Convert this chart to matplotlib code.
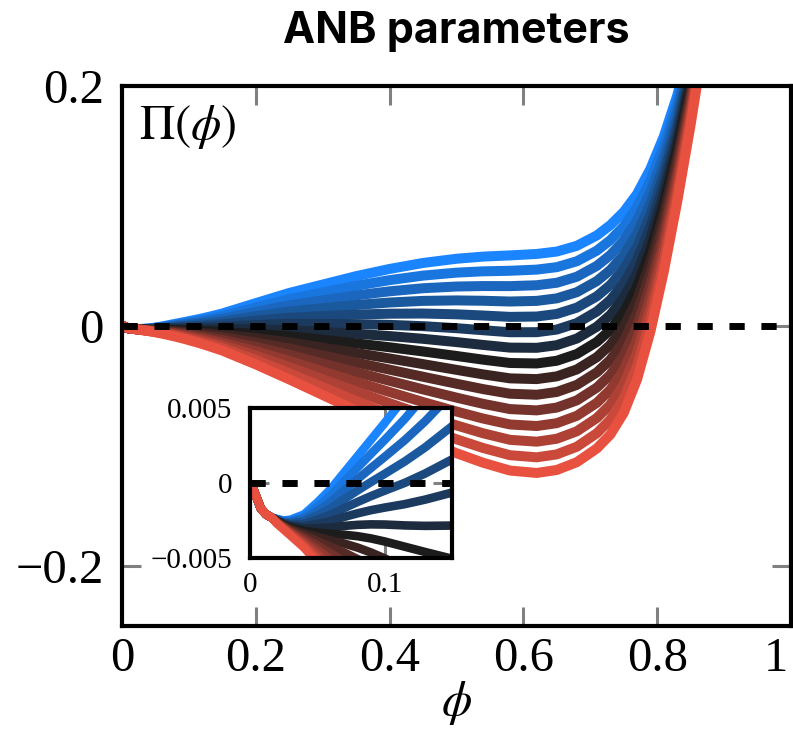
import matplotlib
matplotlib.use('Agg')
import matplotlib.pyplot as plt
import matplotlib.transforms as mtransforms
from matplotlib.colors import LinearSegmentedColormap

# volume fraction grid shared by all curves
phi = [0, 0.002, 0.005, 0.008, 0.012, 0.016, 0.02, 0.025, 0.03, 0.04,
       0.05, 0.06, 0.07, 0.08, 0.09, 0.1, 0.115, 0.13, 0.15, 0.2,
       0.25, 0.3, 0.35, 0.4, 0.45, 0.5, 0.54, 0.58, 0.62, 0.65,
       0.68, 0.71, 0.73, 0.75, 0.77, 0.79, 0.81, 0.83, 0.85, 0.87, 0.89]

# Pi(phi), one list per curve, from blue (top) to red (bottom)
pi_01 = [0, -0.0003, -0.001, -0.0017, -0.0021, -0.0023,
         -0.0024, -0.0025, -0.00245, -0.0021, -0.0013, -0.0004, 0.0007, 0.0018, 0.0029, 0.004,
         0.0057, 0.0076, 0.0104, 0.019, 0.0275, 0.0345, 0.0415, 0.0475, 0.0525, 0.056,
         0.0578, 0.0588, 0.06, 0.062, 0.0668, 0.0755, 0.084, 0.095, 0.11, 0.131,
         0.158, 0.192, 0.235, 0.288, 0.35]
pi_02 = [0, -0.0003, -0.001, -0.0017, -0.0021, -0.0023,
         -0.00242, -0.00254, -0.00253, -0.00226, -0.00159, -0.00083, 0.00011, 0.00104, 0.00196, 0.00287,
         0.00428, 0.00586, 0.00819, 0.01536, 0.02236, 0.02793, 0.0335, 0.03818, 0.04196, 0.04443,
         0.04553, 0.04599, 0.04696, 0.049, 0.05392, 0.06282, 0.07154, 0.08304, 0.09896, 0.12132,
         0.14996, 0.18568, 0.23018, 0.28439, 0.34739]
pi_03 = [0, -0.0003, -0.001, -0.0017, -0.0021, -0.0023,
         -0.00244, -0.00259, -0.0026, -0.00241, -0.00187, -0.00126, -0.00049, 0.00027, 0.00101, 0.00174,
         0.00286, 0.00411, 0.00599, 0.01171, 0.01721, 0.02136, 0.0255, 0.02886, 0.03143, 0.03286,
         0.03326, 0.03319, 0.03393, 0.036, 0.04104, 0.05014, 0.05907, 0.07107, 0.08793, 0.11164,
         0.14193, 0.17936, 0.22536, 0.28079, 0.34479]
pi_04 = [0, -0.0003, -0.001, -0.0017, -0.0021, -0.0023,
         -0.00246, -0.00263, -0.00268, -0.00257, -0.00216, -0.00169, -0.00108, -0.00049, 0.00007, 0.00061,
         0.00144, 0.00237, 0.00378, 0.00807, 0.01207, 0.01479, 0.0175, 0.01954, 0.02089, 0.02129,
         0.02099, 0.02038, 0.02089, 0.023, 0.02816, 0.03746, 0.04661, 0.05911, 0.07689, 0.10196,
         0.13389, 0.17304, 0.22054, 0.27718, 0.34218]
pi_05 = [0, -0.0003, -0.001, -0.0017, -0.0021, -0.0023,
         -0.00249, -0.00267, -0.00275, -0.00273, -0.00244, -0.00211, -0.00167, -0.00126, -0.00087, -0.00051,
         0.00001, 0.00063, 0.00157, 0.00443, 0.00693, 0.00821, 0.0095, 0.01021, 0.01036, 0.00971,
         0.00871, 0.00757, 0.00786, 0.01, 0.01529, 0.02479, 0.03414, 0.04714, 0.06586, 0.09229,
         0.12586, 0.16671, 0.21571, 0.27357, 0.33957]
pi_06 = [0, -0.0003, -0.001, -0.0017, -0.0021, -0.0023,
         -0.00251, -0.00271, -0.00283, -0.00289, -0.00273, -0.00254, -0.00226, -0.00202, -0.00181, -0.00164,
         -0.00141, -0.00111, -0.00064, 0.00079, 0.00179, 0.00164, 0.0015, 0.00089, -0.00018, -0.00186,
         -0.00356, -0.00524, -0.00518, -0.003, 0.00241, 0.01211, 0.02168, 0.03518, 0.05482, 0.08261,
         0.11782, 0.16039, 0.21089, 0.26996, 0.33696]
pi_07 = [0, -0.0003, -0.001, -0.0017, -0.0021, -0.0023,
         -0.00253, -0.00276, -0.0029, -0.00304, -0.00301, -0.00297, -0.00286, -0.00279, -0.00276, -0.00277,
         -0.00283, -0.00286, -0.00284, -0.00286, -0.00336, -0.00493, -0.0065, -0.00843, -0.01071, -0.01343,
         -0.01583, -0.01804, -0.01821, -0.016, -0.01047, -0.00057, 0.00921, 0.02321, 0.04379, 0.07293,
         0.10979, 0.15407, 0.20607, 0.26636, 0.33436]
pi_08 = [0, -0.0003, -0.001, -0.0017, -0.0021, -0.0023,
         -0.00255, -0.0028, -0.00298, -0.0032, -0.0033, -0.0034, -0.00345, -0.00355, -0.0037, -0.0039,
         -0.00425, -0.0046, -0.00505, -0.0065, -0.0085, -0.0115, -0.0145, -0.01775, -0.02125, -0.025,
         -0.0281, -0.03085, -0.03125, -0.029, -0.02335, -0.01325, -0.00325, 0.01125, 0.03275, 0.06325,
         0.10175, 0.14775, 0.20125, 0.26275, 0.33175]
pi_09 = [0, -0.0003, -0.001, -0.0017, -0.0021, -0.0023,
         -0.00257, -0.00284, -0.00305, -0.00336, -0.00359, -0.00383, -0.00404, -0.00431, -0.00464, -0.00503,
         -0.00567, -0.00634, -0.00726, -0.01014, -0.01364, -0.01807, -0.0225, -0.02707, -0.03179, -0.03657,
         -0.04037, -0.04366, -0.04429, -0.042, -0.03623, -0.02593, -0.01571, -0.00071, 0.02171, 0.05357,
         0.09371, 0.14143, 0.19643, 0.25914, 0.32914]
pi_10 = [0, -0.0003, -0.001, -0.0017, -0.0021, -0.0023,
         -0.00259, -0.00289, -0.00313, -0.00351, -0.00387, -0.00426, -0.00464, -0.00508, -0.00559, -0.00616,
         -0.00709, -0.00809, -0.00946, -0.01379, -0.01879, -0.02464, -0.0305, -0.03639, -0.04232, -0.04814,
         -0.05264, -0.05646, -0.05732, -0.055, -0.04911, -0.03861, -0.02818, -0.01268, 0.01068, 0.04389,
         0.08568, 0.13511, 0.19161, 0.25554, 0.32654]
pi_11 = [0, -0.0003, -0.001, -0.0017, -0.0021, -0.0023,
         -0.00261, -0.00293, -0.0032, -0.00367, -0.00416, -0.00469, -0.00523, -0.00584, -0.00653, -0.00729,
         -0.00851, -0.00983, -0.01167, -0.01743, -0.02393, -0.03121, -0.0385, -0.04571, -0.05286, -0.05971,
         -0.06491, -0.06927, -0.07036, -0.068, -0.06199, -0.05129, -0.04064, -0.02464, -0.00036, 0.03421,
         0.07764, 0.12879, 0.18679, 0.25193, 0.32393]
pi_12 = [0, -0.0003, -0.001, -0.0017, -0.0021, -0.0023,
         -0.00264, -0.00297, -0.00328, -0.00383, -0.00444, -0.00511, -0.00582, -0.00661, -0.00747, -0.00841,
         -0.00994, -0.01157, -0.01388, -0.02107, -0.02907, -0.03779, -0.0465, -0.05504, -0.06339, -0.07129,
         -0.07719, -0.08208, -0.08339, -0.081, -0.07486, -0.06396, -0.05311, -0.03661, -0.01139, 0.02454,
         0.06961, 0.12246, 0.18196, 0.24832, 0.32132]
pi_13 = [0, -0.0003, -0.001, -0.0017, -0.0021, -0.0023,
         -0.00266, -0.00301, -0.00335, -0.00399, -0.00473, -0.00554, -0.00641, -0.00737, -0.00841, -0.00954,
         -0.01136, -0.01331, -0.01609, -0.02471, -0.03421, -0.04436, -0.0545, -0.06436, -0.07393, -0.08286,
         -0.08946, -0.09489, -0.09643, -0.094, -0.08774, -0.07664, -0.06557, -0.04857, -0.02243, 0.01486,
         0.06157, 0.11614, 0.17714, 0.24471, 0.31871]
pi_14 = [0, -0.0003, -0.001, -0.0017, -0.0021, -0.0023,
         -0.00268, -0.00306, -0.00343, -0.00414, -0.00501, -0.00597, -0.00701, -0.00814, -0.00936, -0.01067,
         -0.01278, -0.01506, -0.01829, -0.02836, -0.03936, -0.05093, -0.0625, -0.07368, -0.08446, -0.09443,
         -0.10173, -0.10769, -0.10946, -0.107, -0.10062, -0.08932, -0.07804, -0.06054, -0.03346, 0.00518,
         0.05354, 0.10982, 0.17232, 0.24111, 0.31611]
pi_15 = [0, -0.0003, -0.001, -0.0017, -0.0021, -0.0023,
         -0.0027, -0.0031, -0.0035, -0.0043, -0.0053, -0.0064, -0.0076, -0.0089, -0.0103, -0.0118,
         -0.0142, -0.0168, -0.0205, -0.032, -0.0445, -0.0575, -0.0705, -0.083, -0.095, -0.106,
         -0.114, -0.1205, -0.1225, -0.12, -0.1135, -0.102, -0.0905, -0.0725, -0.0445, -0.0045,
         0.0455, 0.1035, 0.1675, 0.2375, 0.3135]
curves = [pi_01, pi_02, pi_03, pi_04, pi_05, pi_06, pi_07, pi_08,
          pi_09, pi_10, pi_11, pi_12, pi_13, pi_14, pi_15]

x_ticks = [0, 0.2, 0.4, 0.6, 0.8, 1]
x_tick_labels = ['0', '0.2', '0.4', '0.6', '0.8', '1']
y_ticks = [-0.2, 0, 0.2]
y_tick_labels = ['\u22120.2', '0', '0.2']
inset_x_ticks = [0, 0.1]
inset_x_labels = ['0', '0.1']
inset_y_ticks = [-0.005, 0, 0.005]
inset_y_labels = ['\u22120.005', '0', '0.005']

plt.rcParams['font.family'] = 'Liberation Serif'
plt.rcParams['mathtext.fontset'] = 'stix'

cmap = LinearSegmentedColormap.from_list('bkr', ['#1a85ff', '#1c1c1c', '#e8503f'])


def draw_curves(a, lw):
    for i, c in enumerate(curves):
        a.plot(phi, c, color=cmap(i / (len(curves) - 1)), lw=lw,
               solid_capstyle='butt', solid_joinstyle='round', zorder=2)
    a.axhline(0, color='black', lw=5, dashes=(2.2, 2.4), zorder=2.2)


def style_axes(a, size, pad_x, pad_y):
    for s in a.spines.values():
        s.set_linewidth(3)
    a.tick_params(direction='in', length=14, width=2.2, color='0.5',
                  top=True, right=True, labelsize=size)
    a.tick_params(axis='x', pad=pad_x)
    a.tick_params(axis='y', pad=pad_y)


fig = plt.figure(figsize=(7.93, 7.52), dpi=100)

ax = fig.add_axes([0.1538, 0.1676, 0.8436, 0.7181])
draw_curves(ax, 7.2)
ax.set_xlim(0, 1)
ax.set_ylim(-0.25, 0.2)
ax.set_xticks(x_ticks)
ax.set_xticklabels(x_tick_labels)
ax.set_yticks(y_ticks)
ax.set_yticklabels(y_tick_labels)
style_axes(ax, 35, 8, 13)
# tick marks that would sit on the frame
for t in [ax.xaxis.get_major_ticks()[0], ax.xaxis.get_major_ticks()[-1],
          ax.yaxis.get_major_ticks()[-1]]:
    t.tick1line.set_visible(False)
    t.tick2line.set_visible(False)
# keep the "1" inside the figure edge
last = ax.get_xticklabels()[-1]
last.set_horizontalalignment('right')
last.set_transform(last.get_transform() +
                   mtransforms.ScaledTranslation(-2 / 72, 0, fig.dpi_scale_trans))

ax.text(0.025, 0.968, r'$\Pi(\phi)$', transform=ax.transAxes,
        fontsize=35, ha='left', va='top')
fig.text(0.575, 1 - 703 / 752, r'$\phi$', fontsize=35, ha='center', va='center')
fig.text(0.575, 1 - 31 / 752, 'ANB parameters', ha='center', va='center',
         fontsize=31, fontweight='bold', family='Inter')

# zoom on small phi
axin = fig.add_axes([0.3153, 0.258, 0.2547, 0.1995])
axin.set_facecolor('white')
draw_curves(axin, 6.2)
axin.set_xlim(0, 0.15)
axin.set_ylim(-0.005, 0.005)
axin.set_xticks(inset_x_ticks)
axin.set_xticklabels(inset_x_labels)
axin.set_yticks(inset_y_ticks)
axin.set_yticklabels(inset_y_labels)
style_axes(axin, 21, 10, 13)
for t in [axin.xaxis.get_major_ticks()[0], axin.yaxis.get_major_ticks()[0],
          axin.yaxis.get_major_ticks()[-1]]:
    t.tick1line.set_visible(False)
    t.tick2line.set_visible(False)

fig.savefig('out.png', dpi=100)
